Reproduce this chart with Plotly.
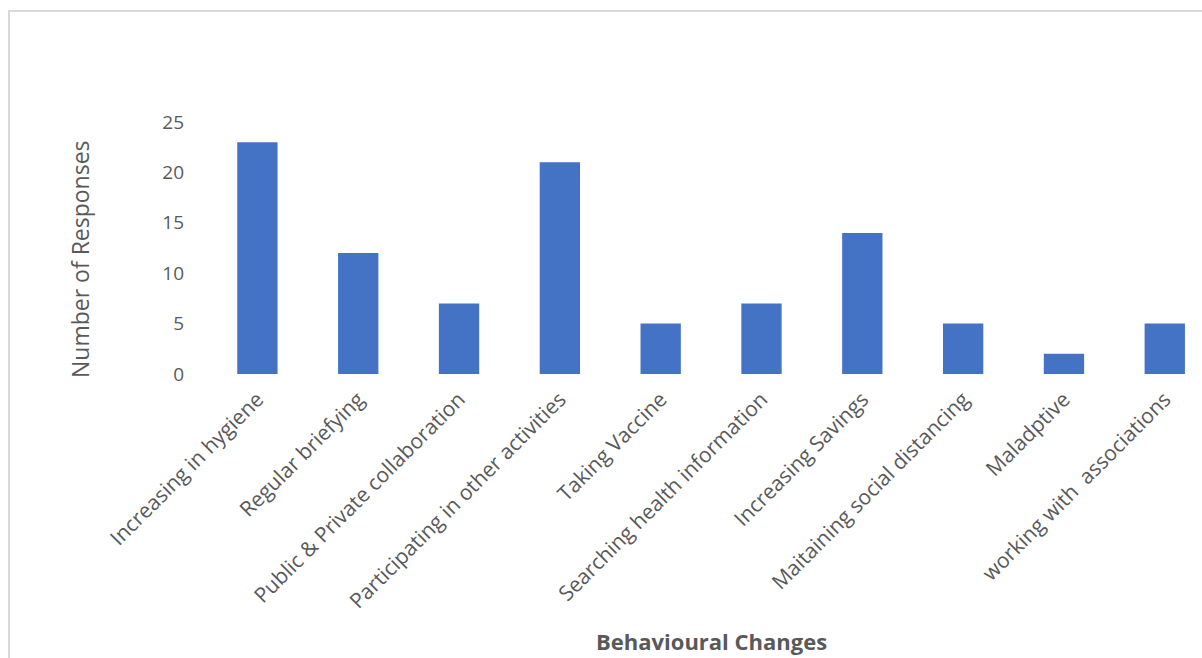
import plotly.graph_objects as go

categories = ["Increasing in hygiene", "Regular briefying", "Public & Private collaboration",
              "Participating in other activities", "Taking Vaccine", "Searching health information",
              "Increasing Savings", "Maitaining social distancing", "Maladptive",
              "working with  associations"]
values = [23, 12, 7, 21, 5, 7, 14, 5, 2, 5]
y_ticks = [0, 5, 10, 15, 20, 25]

W, H = 1202, 658
L, R, T, B = 207, 9, 122, 284
pw, ph = W - L - R, H - T - B

font = "Open Sans"
grey = "#595959"

fig = go.Figure(go.Bar(x=list(range(len(categories))), y=values,
                       marker=dict(color="#4472C4", line=dict(width=0)),
                       width=0.4))

def px_x(px):
    return (px - L) / pw

def px_y(py):
    return (H - B - py) / ph

fig.update_layout(
    width=W, height=H, margin=dict(l=L, r=R, t=T, b=B),
    paper_bgcolor="white", plot_bgcolor="white", showlegend=False,
    font=dict(family=font, color=grey, size=20),
    xaxis=dict(tickmode="array", tickvals=list(range(len(categories))), ticktext=categories,
               range=[-0.5, 9.28], tickangle=-45, showgrid=False, zeroline=False,
               showline=False, ticks="", ticklabelstandoff=8,
               tickfont=dict(size=21, color=grey)),
    yaxis=dict(range=[0, 25], tickvals=y_ticks, showgrid=False, zeroline=False,
               showline=False, ticks="", ticklabelstandoff=22,
               tickfont=dict(size=19, color=grey)),
    shapes=[dict(type="rect", xref="paper", yref="paper",
                 x0=px_x(9), x1=px_x(1250), y0=px_y(700), y1=px_y(11),
                 line=dict(color="#D9D9D9", width=2), layer="below")],
    annotations=[
        dict(text="<b>Behavioural Changes</b>", xref="paper", yref="paper",
             x=px_x(711), y=px_y(641), showarrow=False, xanchor="center", yanchor="middle",
             font=dict(size=22, color=grey, family=font)),
        dict(text="Number of Responses", xref="paper", yref="paper",
             x=px_x(80), y=px_y(259), showarrow=False, textangle=-90,
             xanchor="center", yanchor="middle",
             font=dict(size=23, color=grey, family=font)),
    ],
)

fig.write_html("out.html")
